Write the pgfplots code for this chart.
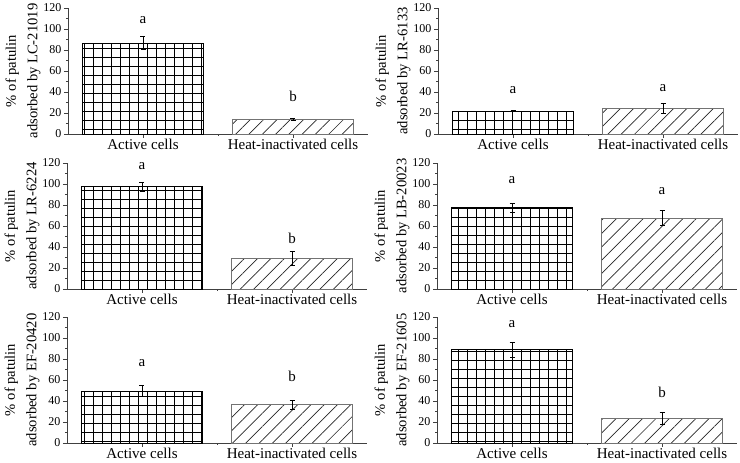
\documentclass[border=0pt]{standalone}
\usepackage{fontspec}
\setmainfont{Liberation Serif}
\usepackage{pgfplots}
\pgfplotsset{compat=1.18}
\usetikzlibrary{patterns.meta}

% grid fill of the active-cell bars
\tikzdeclarepattern{
  name=biggrid,
  type=uncolored,
  bounding box={(0pt,0pt) and (8.9pt,8.9pt)},
  tile size={(8.9pt,8.9pt)},
  code={
    \draw[line width=0.75pt] (0pt,4.45pt) -- (8.9pt,4.45pt) (4.45pt,0pt) -- (4.45pt,8.9pt);
  }
}

\pgfplotsset{
  panel/.style={
    scale only axis,
    width=300pt, height=126pt,
    anchor=south west,
    xmin=0.5, xmax=2.5,
    ymin=0, ymax=120,
    ytick={0,20,...,120},
    minor y tick num=1,
    xtick={1,2},
    minor xtick={1.5},
    xticklabels={Active cells, Heat-inactivated cells},
    axis x line*=bottom,
    axis y line*=left,
    axis line style={black!75, line width=0.8pt},
    tick style={black!75, line width=0.8pt},
    tick align=outside,
    major tick length=4pt,
    minor tick length=2pt,
    ybar, bar width=0.807, bar shift=0pt,
    clip=false,
    /pgf/number format/assume math mode=true,
    yticklabel style={font=\fontsize{12}{14}\selectfont, xshift=1pt},
    xticklabel style={font=\fontsize{15}{18}\selectfont, yshift=2pt},
    ylabel style={font=\fontsize{14.6}{18}\selectfont, align=center,
      at={(axis description cs:0,0.5)}, anchor=center, yshift=45pt},
    error bars/y dir=both,
    error bars/y explicit,
    error bars/error bar style={black, line width=0.8pt},
    error bars/error mark options={rotate=90, mark size=2.5pt, black, line width=0.8pt},
  },
  active/.style={draw=black, line width=0.9pt, pattern=biggrid, pattern color=black},
  heat/.style={draw=black!55, line width=0.9pt,
    pattern={Lines[angle=45, distance=9.4pt, line width=0.7pt]}, pattern color=black!85},
}

% #1 position, #2 strain, #3/#4 active mean/err, #5/#6 heat mean/err,
% #7 height of letter over active, #9 height of letter over heat (\lettB)
\newcommand{\panel}[9]{%
  \begin{axis}[panel, at={#1}, ylabel={\% of patulin\\[3.5pt]adsorbed by #2}]
    \addplot[active] coordinates {(1,#3) +- (0,#4)};
    \addplot[heat] coordinates {(2,#5) +- (0,#6)};
    \node[font=\fontsize{15}{18}\selectfont] at (axis cs:1,#7) {a};
    \node[font=\fontsize{15}{18}\selectfont] at (axis cs:2,#9) {\lettB};
  \end{axis}}

\begin{document}
\begin{tikzpicture}
\path[use as bounding box] (0pt,0pt) rectangle (740pt,463pt);

\def\lettB{b}
\panel{(68pt,329pt)}{LC-21019}{86.5}{6.3}{13.9}{1.0}{108.6}{a}{35.4}
\def\lettB{a}
\panel{(438pt,329pt)}{LR-6133}{21.8}{0.4}{24.3}{5.0}{41.7}{a}{44.2}
\def\lettB{b}
\panel{(67pt,174pt)}{LR-6224}{97.3}{4.3}{28.7}{6.7}{116.8}{a}{47.9}
\def\lettB{a}
\panel{(437pt,174pt)}{LB-20023}{77.2}{4.0}{67.6}{7.4}{103.3}{a}{93.6}
\def\lettB{b}
\panel{(67pt,20pt)}{EF-20420}{49.4}{5.1}{36.4}{4.4}{76.3}{a}{63.0}
\panel{(437pt,20pt)}{EF-21605}{88.7}{7.4}{23.4}{5.4}{113.4}{a}{48.6}

\end{tikzpicture}
\end{document}
